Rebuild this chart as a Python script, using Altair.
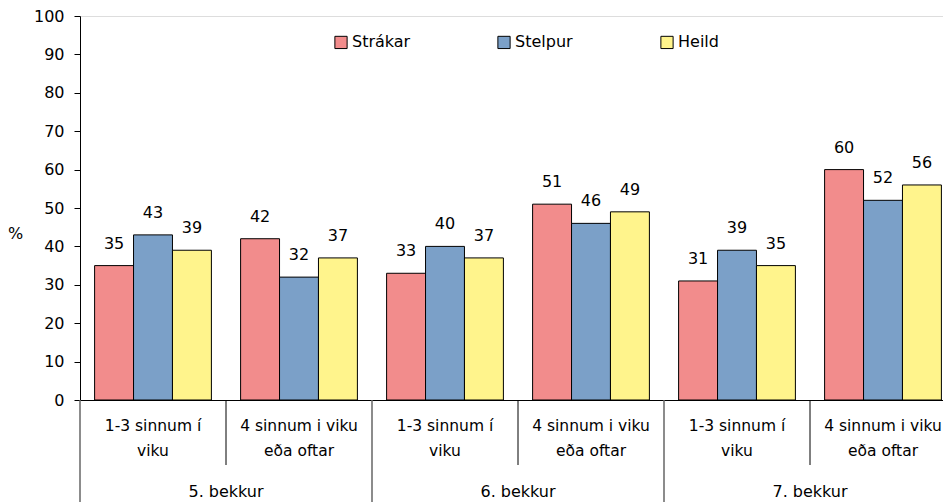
import altair as alt
import pandas as pd

groups = ["5. bekkur", "6. bekkur", "7. bekkur"]
sub_line1 = ["1-3 sinnum í", "4 sinnum i viku"]
sub_line2 = ["viku", "eða oftar"]
series = ["Strákar", "Stelpur", "Heild"]
colors = ["#F28C8C", "#7BA0C8", "#FFF48C"]
strakar = [35, 42, 33, 51, 31, 60]
stelpur = [43, 32, 40, 46, 39, 52]
heild = [39, 37, 37, 49, 35, 56]
y_ticks = [0, 10, 20, 30, 40, 50, 60, 70, 80, 90, 100]

FONT = "DejaVu Sans"
FS = 16
FS_SUB = 15.5

cats, cat_rows = [], []
for gi, g in enumerate(groups):
    for si in range(len(sub_line1)):
        cid = f"{g}|{si}"
        cats.append(cid)
        cat_rows.append({"cat": cid, "group": g, "l1": sub_line1[si], "l2": sub_line2[si],
                         "first": si == 0})
cat_df = pd.DataFrame(cat_rows)

rows = []
vals = {"Strákar": strakar, "Stelpur": stelpur, "Heild": heild}
for i, c in enumerate(cats):
    for s in series:
        rows.append({"cat": c, "series": s, "value": vals[s][i]})
df = pd.DataFrame(rows)

# the last panel runs slightly past the right edge of the picture, as in the original
xscale = alt.Scale(domain=cats, paddingInner=0, paddingOuter=0, range=[0, 876])
yscale = alt.Scale(domain=[0, 100], nice=False)
yaxis = alt.Axis(values=y_ticks, grid=False, tickSize=6, labelOverlap=False,
                 tickColor="black", domainColor="black", labelPadding=10,
                 labelFont=FONT, labelFontSize=FS, labelColor="black",
                 title="%", titleAngle=0, titleX=-65, titleY=217,
                 titleAlign="center", titleBaseline="middle",
                 titleFont=FONT, titleFontSize=FS, titleFontWeight="normal",
                 titleColor="black")
X = alt.X("cat:N", scale=xscale, sort=cats,
          axis=alt.Axis(labels=False, ticks=False, title=None, domain=True,
                        domainColor="black", domainWidth=1))
XO = alt.XOffset("series:N", sort=series,
                 scale=alt.Scale(domain=series, paddingInner=0, paddingOuter=0.375))

bars = alt.Chart(df).mark_bar(stroke="black", strokeWidth=1).encode(
    x=X,
    xOffset=XO,
    y=alt.Y("value:Q", scale=yscale, axis=yaxis),
    color=alt.Color("series:N", sort=series,
                    scale=alt.Scale(domain=series, range=colors),
                    legend=alt.Legend(title=None, orient="none", legendX=253, legendY=18,
                                      direction="horizontal", columns=3, gridAlign="all",
                                      columnPadding=84, symbolType="square",
                                      symbolSize=150, symbolStrokeColor="black",
                                      symbolStrokeWidth=1, symbolOpacity=1,
                                      labelFont=FONT, labelFontSize=FS,
                                      labelColor="black", labelOffset=3)),
)

labels = alt.Chart(df).mark_text(font=FONT, fontSize=FS, baseline="bottom", dy=-14,
                                 color="black").encode(
    x=X,
    xOffset=XO,
    y=alt.Y("value:Q", scale=yscale, axis=yaxis),
    text="value:Q",
)

sub1 = alt.Chart(cat_df).mark_text(font=FONT, fontSize=FS_SUB, baseline="middle",
                                   color="black").encode(
    x=X, y=alt.value(410), text="l1:N")
sub2 = alt.Chart(cat_df).mark_text(font=FONT, fontSize=FS_SUB, baseline="middle",
                                   color="black").encode(
    x=X, y=alt.value(435), text="l2:N")

grp = alt.Chart(cat_df).transform_filter("!datum.first").mark_text(
    font=FONT, fontSize=FS, baseline="middle", color="black").encode(
    x=alt.X("cat:N", scale=xscale, sort=cats, bandPosition=0),
    y=alt.value(476), text="group:N")

sub_sep = alt.Chart(cat_df).transform_filter("!datum.first").mark_rule(
    color="black", strokeWidth=1).encode(
    x=alt.X("cat:N", scale=xscale, sort=cats, bandPosition=0),
    y=alt.value(384), y2=alt.value(449))

grp_sep = alt.Chart(cat_df).transform_filter("datum.first").mark_rule(
    color="#666666", strokeWidth=1.5).encode(
    x=alt.X("cat:N", scale=xscale, sort=cats, bandPosition=0),
    y=alt.value(384), y2=alt.value(490))

chart = alt.layer(bars, labels, sub1, sub2, grp, sub_sep, grp_sep).properties(
    width=863, height=384,
    autosize=alt.AutoSizeParams(type="none"),
    padding={"left": 72, "top": 8, "right": 0, "bottom": 102},
).configure_view(stroke=None).configure(background="white")

chart.save("out.html", embed_options={"renderer": "svg", "actions": False})
